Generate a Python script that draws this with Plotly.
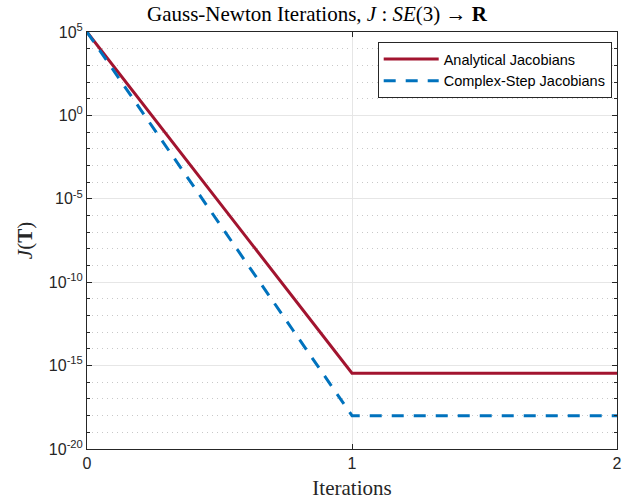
import plotly.graph_objects as go

iterations = [0, 1, 2]
analytical = [1e5, 3.5e-16, 3.5e-16]
complex_step = [1e5, 1e-18, 1e-18]
y_tick_exps = [5, 0, -5, -10, -15, -20]
y_tick_labels = ["10<sup>%d</sup>" % e for e in y_tick_exps]
x_ticks = [0, 1, 2]

fig = go.Figure()
fig.add_trace(go.Scatter(x=iterations, y=analytical, mode="lines",
                         name="Analytical Jacobians",
                         line=dict(color="#A2142F", width=3)))
fig.add_trace(go.Scatter(x=iterations, y=complex_step, mode="lines",
                         name="Complex-Step Jacobians",
                         line=dict(color="#0072BD", width=3, dash="12px,10px")))

axcol = "#262626"
fig.update_layout(
    width=634, height=504,
    margin=dict(l=87, r=17, t=32, b=55),
    paper_bgcolor="white", plot_bgcolor="white",
    title=dict(text="Gauss-Newton Iterations, <i>J</i> : <i>SE</i>(3) → <b>R</b>",
               x=0.5, xanchor="center", y=0.972, yanchor="middle",
               font=dict(family="Liberation Serif", size=21, color="black")),
    legend=dict(x=0.99, y=0.976, xanchor="right", yanchor="top",
                bgcolor="white", bordercolor=axcol, borderwidth=1,
                font=dict(family="Liberation Sans", size=14.5, color="black"),
                itemwidth=55, tracegroupgap=0),
    font=dict(family="Liberation Sans", size=15, color=axcol),
)
fig.update_xaxes(
    range=[0, 2], tickvals=x_ticks, ticktext=[str(v) for v in x_ticks],
    showline=True, linecolor=axcol, linewidth=1, mirror="ticks",
    ticks="inside", ticklen=5, tickcolor=axcol, automargin=False,
    showgrid=True, gridcolor="#E6E6E6", gridwidth=1, zeroline=False,
    tickfont=dict(family="Liberation Sans", size=16, color=axcol),
    title=dict(text="Iterations", font=dict(family="Liberation Serif", size=21, color=axcol),
               standoff=9),
)
fig.update_yaxes(
    type="log", range=[-20, 5],
    tickvals=[10.0 ** e for e in y_tick_exps], ticktext=y_tick_labels,
    showline=True, linecolor=axcol, linewidth=1, mirror="ticks",
    ticks="inside", ticklen=5, tickcolor=axcol, automargin=False,
    showgrid=True, gridcolor="#E6E6E6", gridwidth=1, zeroline=False,
    tickfont=dict(family="Liberation Sans", size=16, color=axcol),
    minor=dict(tickvals=[10.0 ** e for e in range(-20, 6) if e % 5 != 0],
               ticks="inside", ticklen=3, tickcolor=axcol,
               showgrid=True, gridcolor="#C8C8C8", griddash="1px,4px", gridwidth=1),
    title=dict(text="<i>J</i>(<b>T</b>)", font=dict(family="Liberation Serif", size=21, color=axcol),
               standoff=10),
)
fig.write_html("out.html")
